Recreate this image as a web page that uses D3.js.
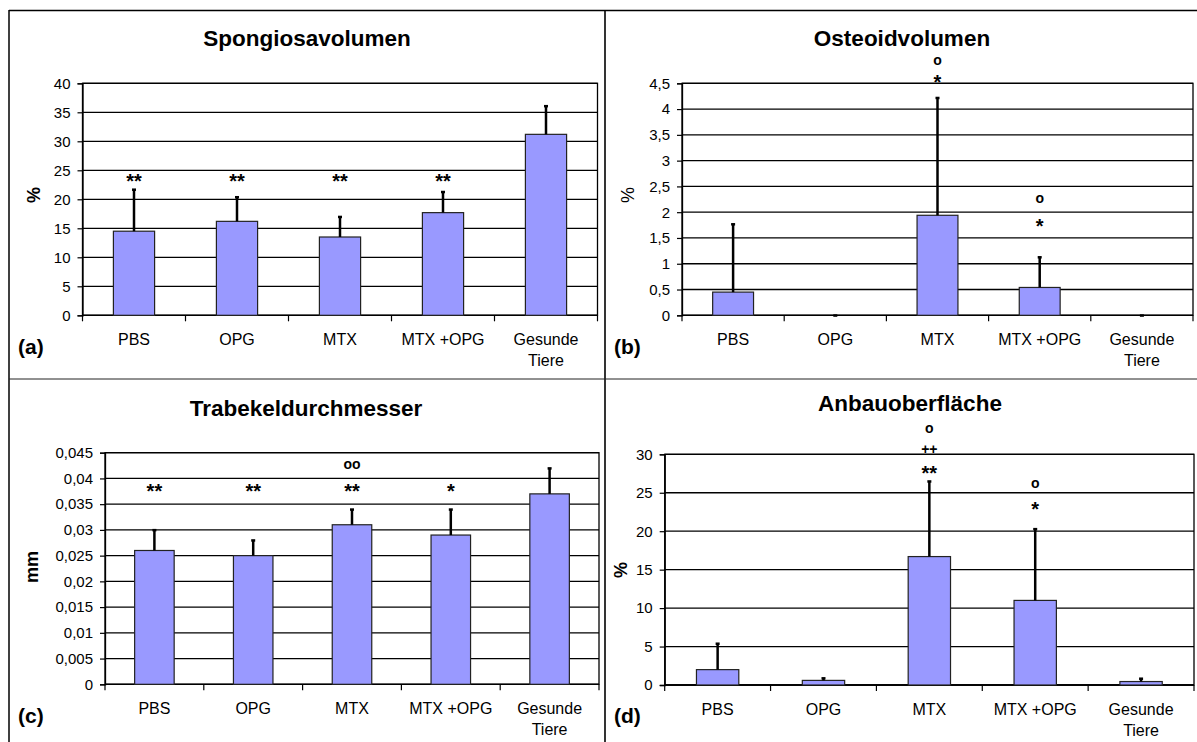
<!DOCTYPE html>
<meta charset="utf-8">
<body style="margin:0;background:#fff">
<div id="chart"></div>
<script src="https://d3js.org/d3.v7.min.js"></script>
<script>
// groups
const categories = ["PBS", "OPG", "MTX", "MTX +OPG", "Gesunde Tiere"];

// (a) Spongiosavolumen, %
const spongiosaMean = [14.5, 16.2, 13.5, 17.7, 31.2];
const spongiosaSd   = [7.2, 4.2, 3.5, 3.6, 4.9];
const spongiosaTicks = [0, 5, 10, 15, 20, 25, 30, 35, 40];

// (b) Osteoidvolumen, %
const osteoidMean = [0.45, 0, 1.94, 0.54, 0];
const osteoidSd   = [1.32, 0, 2.28, 0.59, 0];
const osteoidTicks = [0, 0.5, 1, 1.5, 2, 2.5, 3, 3.5, 4, 4.5];

// (c) Trabekeldurchmesser, mm
const trabMean = [0.026, 0.025, 0.031, 0.029, 0.037];
const trabSd   = [0.004, 0.003, 0.003, 0.005, 0.005];
const trabTicks = [0, 0.005, 0.01, 0.015, 0.02, 0.025, 0.03, 0.035, 0.04, 0.045];

// (d) Anbauoberfläche, %
const anbauMean = [2.0, 0.6, 16.7, 11.0, 0.45];
const anbauSd   = [3.4, 0.3, 9.8, 9.3, 0.4];
const anbauTicks = [0, 5, 10, 15, 20, 25, 30];

// significance marks: [group index, text, value level of the mark]
const spongiosaSig = [[0, "**", 23.8], [1, "**", 23.8], [2, "**", 23.8], [3, "**", 23.8]];
const osteoidSig = [[2, "o", 4.93], [2, "*", 4.6], [3, "o", 2.25], [3, "*", 1.81]];
const trabSig = [[0, "**", 0.0384], [1, "**", 0.0384], [2, "oo", 0.0426], [2, "**", 0.0384], [3, "*", 0.0384]];
const anbauSig = [[2, "o", 33.3], [2, "++", 30.7], [2, "**", 28.05], [3, "o", 26.1], [3, "*", 23.4]];

const W = 1197, H = 742;
const font = "'Liberation Sans', Arial, sans-serif";

const svg = d3.select("#chart").append("svg")
    .attr("width", W).attr("height", H)
    .style("font-family", font);

// frame and dividers
svg.append("line").attr("x1", 9).attr("x2", W).attr("y1", 10.5).attr("y2", 10.5)
    .attr("stroke", "#000").attr("stroke-width", 1.5);
svg.append("line").attr("x1", 9).attr("x2", 9).attr("y1", 10).attr("y2", H)
    .attr("stroke", "#000").attr("stroke-width", 1.5);
svg.append("line").attr("x1", 605).attr("x2", 605).attr("y1", 10).attr("y2", H)
    .attr("stroke", "#000").attr("stroke-width", 1.6);
svg.append("line").attr("x1", 9).attr("x2", W).attr("y1", 379).attr("y2", 379)
    .attr("stroke", "#222").attr("stroke-width", 1);

function fmt(d) { return String(d).replace(".", ","); }

function drawPanel(p) {
  const g = svg.append("g");
  const x = d3.scaleBand().domain(categories).range([p.x0, p.x1]).padding(0);
  const y = d3.scaleLinear().domain([0, p.ticks[p.ticks.length - 1]]).range([p.y1, p.y0]);

  // gridlines
  g.append("g").selectAll("line").data(p.ticks).join("line")
      .attr("x1", p.x0).attr("x2", p.x1)
      .attr("y1", d => y(d)).attr("y2", d => y(d))
      .attr("stroke", "#000").attr("stroke-width", 1.3);

  // plot frame
  g.append("rect")
      .attr("x", p.x0).attr("y", p.y0)
      .attr("width", p.x1 - p.x0).attr("height", p.y1 - p.y0)
      .attr("fill", "none").attr("stroke", "#000").attr("stroke-width", 1.3);

  // y axis
  const ax = g.append("g").attr("transform", `translate(${p.x0},0)`)
      .call(d3.axisLeft(y).tickValues(p.ticks).tickFormat(fmt).tickSize(5).tickPadding(7));
  ax.select(".domain").attr("stroke", "#000").attr("stroke-width", 1.3);
  ax.selectAll(".tick line").attr("stroke", "#000").attr("stroke-width", 1.2);
  ax.selectAll("text").attr("font-family", font).attr("font-size", 15).attr("fill", "#000");

  // x axis with ticks on band edges
  g.append("line").attr("x1", p.x0).attr("x2", p.x1)
      .attr("y1", y(0)).attr("y2", y(0)).attr("stroke", "#000").attr("stroke-width", 1.3);
  const edges = categories.map(c => x(c)).concat([p.x1]);
  g.append("g").selectAll("line").data(edges).join("line")
      .attr("x1", d => d).attr("x2", d => d)
      .attr("y1", y(0)).attr("y2", y(0) + 6)
      .attr("stroke", "#000").attr("stroke-width", 1.2);

  // category labels
  const lab = g.append("g").selectAll("text").data(categories).join("text")
      .attr("x", d => x(d) + x.bandwidth() / 2)
      .attr("y", y(0) + 30)
      .attr("text-anchor", "middle").attr("font-size", 16);
  lab.each(function(d) {
    const parts = d === "Gesunde Tiere" ? ["Gesunde", "Tiere"] : [d];
    d3.select(this).selectAll("tspan").data(parts).join("tspan")
        .attr("x", x(d) + x.bandwidth() / 2)
        .attr("dy", (t, i) => i ? 21 : 0)
        .text(t => t);
  });

  // bars
  const bw = x.bandwidth() * 0.4;
  g.append("g").selectAll("rect").data(p.mean).join("rect")
      .attr("x", (d, i) => x(categories[i]) + (x.bandwidth() - bw) / 2)
      .attr("y", d => y(d))
      .attr("width", bw)
      .attr("height", d => y(0) - y(d))
      .attr("fill", "#9999ff").attr("stroke", "#222").attr("stroke-width", 1.2);

  // error bars (upper only)
  const eb = g.append("g");
  p.mean.forEach((m, i) => {
    const cx = x(categories[i]) + x.bandwidth() / 2;
    eb.append("line").attr("x1", cx).attr("x2", cx)
        .attr("y1", y(m)).attr("y2", y(m + p.sd[i]))
        .attr("stroke", "#000").attr("stroke-width", 2.5);
    eb.append("rect").attr("x", cx - 2).attr("y", y(m + p.sd[i]) - 1)
        .attr("width", 4).attr("height", 2.5).attr("fill", "#000");
  });

  // significance marks
  g.append("g").selectAll("text").data(p.sig).join("text")
      .attr("x", d => x(categories[d[0]]) + x.bandwidth() / 2)
      .attr("y", d => {
        const c = d[1][0];
        const off = c === "*" ? 11 : c === "+" ? 5 : 3.8;
        return y(d[2]) + off;
      })
      .attr("text-anchor", "middle").attr("font-weight", "bold")
      .attr("font-size", d => d[1][0] === "*" ? 20 : 14)
      .text(d => d[1]);

  // title
  g.append("text").attr("x", p.tx).attr("y", p.ty)
      .attr("text-anchor", "middle").attr("font-weight", "bold").attr("font-size", 22.5)
      .text(p.title);

  // y label
  g.append("text")
      .attr("transform", `translate(${p.lx},${p.ly}) rotate(-90)`)
      .attr("text-anchor", "middle")
      .attr("font-weight", p.labelBold ? "bold" : "normal")
      .attr("font-size", 18)
      .text(p.label);

  // panel letter
  g.append("text").attr("x", p.px).attr("y", p.py)
      .attr("font-weight", "bold").attr("font-size", 21).text(p.letter);
}

drawPanel({
  mean: spongiosaMean, sd: spongiosaSd, ticks: spongiosaTicks, sig: spongiosaSig,
  x0: 82.5, x1: 597.5, y0: 83.3, y1: 315.3,
  title: "Spongiosavolumen", tx: 307, ty: 46,
  label: "%", labelBold: true, lx: 40, ly: 195,
  letter: "(a)", px: 18, py: 354
});
drawPanel({
  mean: osteoidMean, sd: osteoidSd, ticks: osteoidTicks, sig: osteoidSig,
  x0: 682, x1: 1193, y0: 83.3, y1: 315.3,
  title: "Osteoidvolumen", tx: 902, ty: 46,
  label: "%", labelBold: false, lx: 634, ly: 195,
  letter: "(b)", px: 614, py: 354
});
drawPanel({
  mean: trabMean, sd: trabSd, ticks: trabTicks, sig: trabSig,
  x0: 105, x1: 599, y0: 452.7, y1: 684.3,
  title: "Trabekeldurchmesser", tx: 306, ty: 416,
  label: "mm", labelBold: true, lx: 38, ly: 567,
  letter: "(c)", px: 18, py: 723
});
drawPanel({
  mean: anbauMean, sd: anbauSd, ticks: anbauTicks, sig: anbauSig,
  x0: 664.7, x1: 1194, y0: 454.3, y1: 685,
  title: "Anbauoberfläche", tx: 910, ty: 411,
  label: "%", labelBold: true, lx: 627, ly: 570,
  letter: "(d)", px: 614, py: 723
});
</script>
</body>
